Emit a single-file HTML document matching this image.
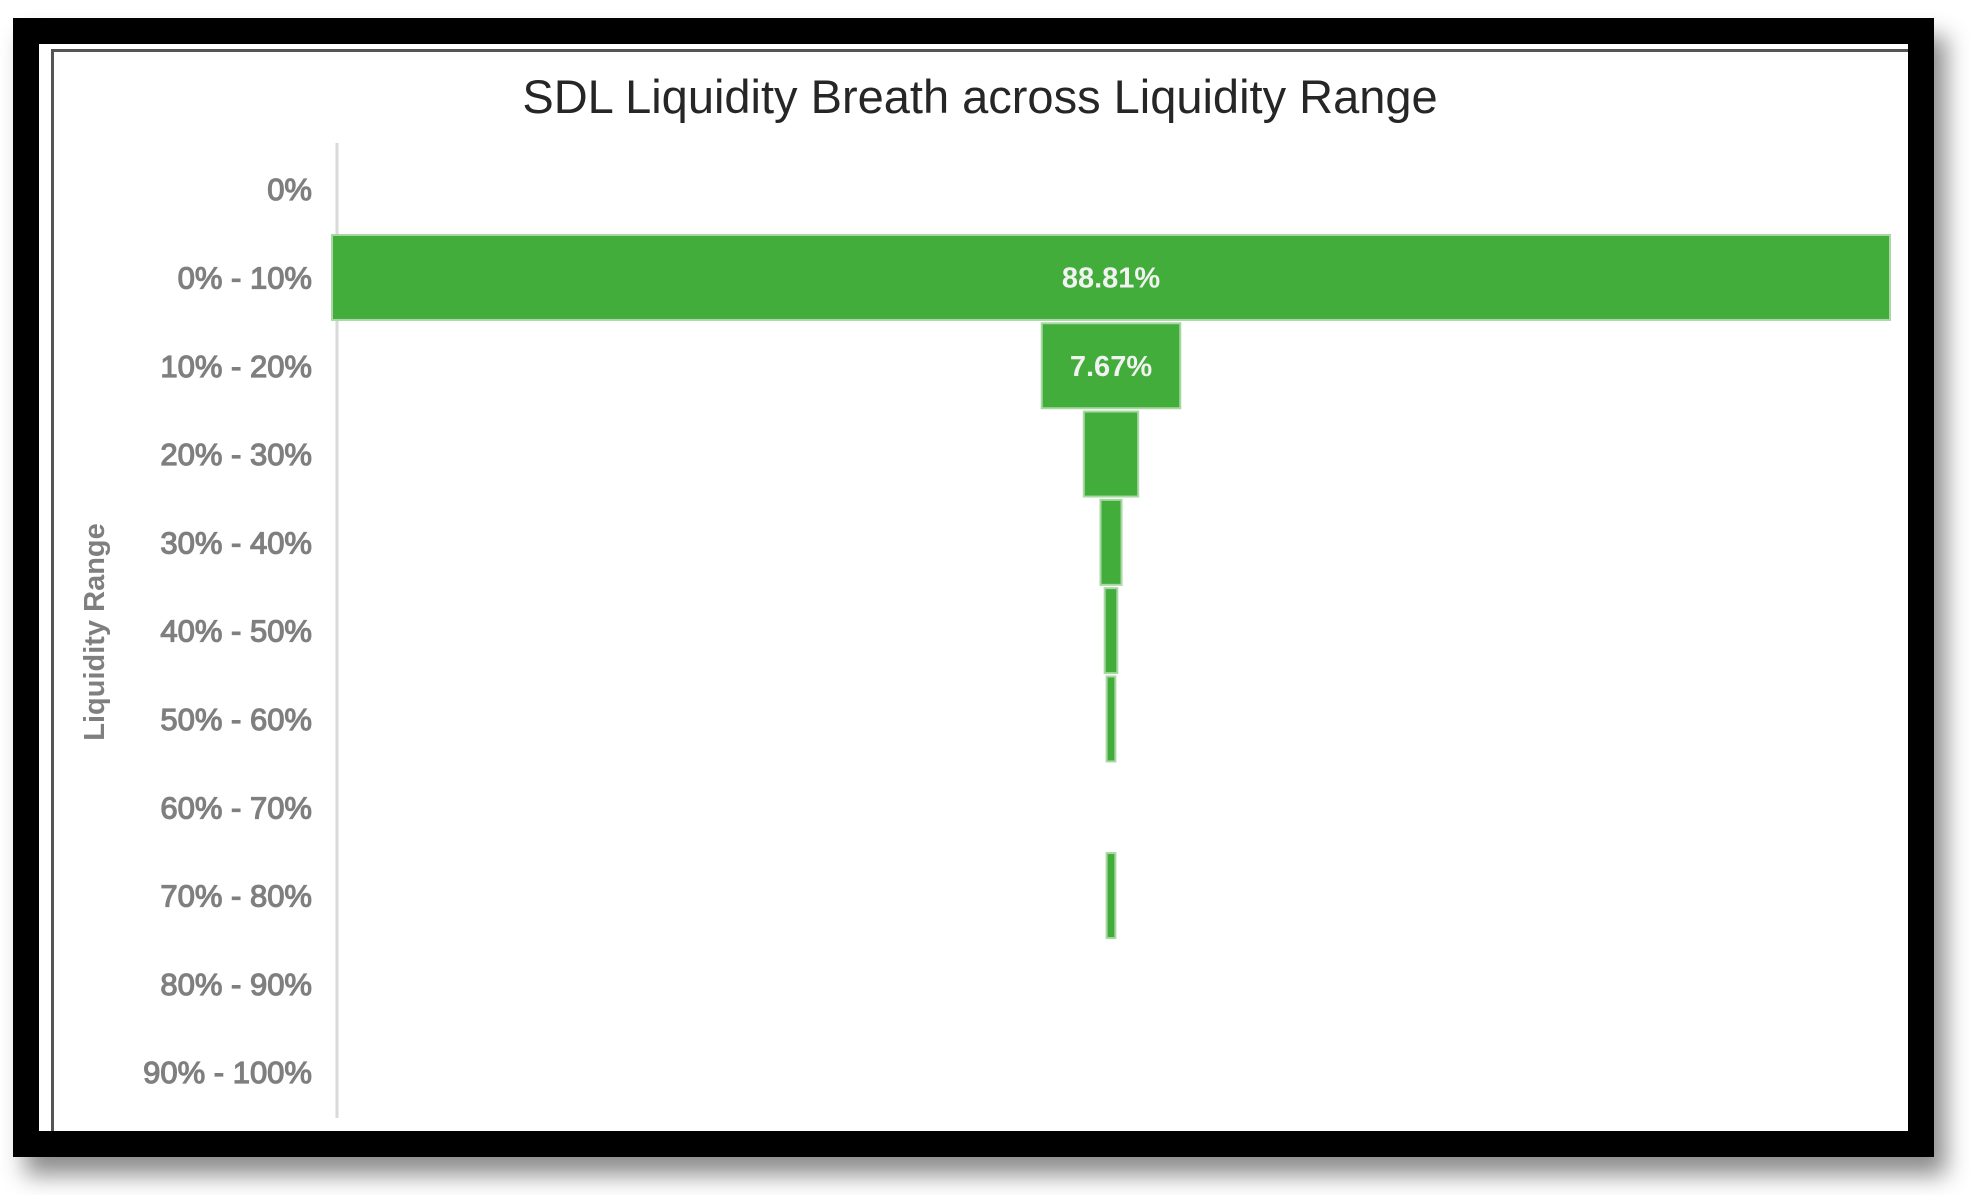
<!DOCTYPE html>
<html><head><meta charset="utf-8">
<style>
html,body{margin:0;padding:0;background:#fff;width:1970px;height:1195px;overflow:hidden;}
#frame{position:absolute;left:13px;top:18px;width:1921px;height:1139px;background:#000;box-shadow:12px 18px 22px rgba(0,0,0,0.45);}
#inner{position:absolute;left:39px;top:44px;width:1869px;height:1087px;background:#fff;}
#gline{position:absolute;left:51px;top:49px;width:1857px;height:1082px;border-left:3px solid #555;border-top:3px solid #555;box-sizing:border-box;}
svg{position:absolute;left:0;top:0;}
text{font-family:"Liberation Sans",sans-serif;}
</style></head><body>
<div id="frame"></div>
<div id="inner"></div>
<div id="gline"></div>
<svg id="chart" width="1970" height="1195">
<text x="980" y="113" text-anchor="middle" font-size="47" fill="#262626">SDL Liquidity Breath across Liquidity Range</text>
<text transform="translate(104,632) rotate(-90)" text-anchor="middle" font-size="29" font-weight="bold" fill="#7f7f7f">Liquidity Range</text>
<line x1="337" y1="143" x2="337" y2="1118" stroke="#d9d9d9" stroke-width="3"/>
<g id="bars"></g>
<g id="labels"></g>
</svg>
<script>
const categories = ["0%","0% - 10%","10% - 20%","20% - 30%","30% - 40%","40% - 50%","50% - 60%","60% - 70%","70% - 80%","80% - 90%","90% - 100%"];
const values = [0, 88.81, 7.9, 3.1, 1.2, 0.72, 0.5, 0, 0.5, 0, 0];
const shownLabels = ["", "88.81%", "7.67%", "", "", "", "", "", "", "", ""];

const ns = "http://www.w3.org/2000/svg";
const centerX = 1111, pxPerPct = 1558/88.81;
const rowTop = 145, rowH = 88.3, barH = 85;
function xw(v){ return v*pxPerPct; }
function yc(i){ return rowTop + rowH*i + rowH/2; }
const bars = document.getElementById('bars');
const labels = document.getElementById('labels');
categories.forEach((c,i)=>{
  const t = document.createElementNS(ns,'text');
  t.setAttribute('x',312); t.setAttribute('y',yc(i)+11);
  t.setAttribute('text-anchor','end'); t.setAttribute('font-size','31');
  t.setAttribute('fill','#7f7f7f'); t.setAttribute('stroke','#7f7f7f'); t.setAttribute('stroke-width','1.2');
  t.textContent = c;
  
  
  labels.appendChild(t);
  const v = values[i];
  if (v > 0) {
    const w = xw(v);
    const r = document.createElementNS(ns,'rect');
    r.setAttribute('x', centerX - w/2); r.setAttribute('y', yc(i)-barH/2);
    r.setAttribute('width', w); r.setAttribute('height', barH);
    r.setAttribute('fill','#43ad3c'); r.setAttribute('stroke','#a9d8a5'); r.setAttribute('stroke-width','2');
    
    
    bars.appendChild(r);
  }
  if (shownLabels[i]) {
    const d = document.createElementNS(ns,'text');
    d.setAttribute('x', centerX); d.setAttribute('y', yc(i)+10);
    d.setAttribute('text-anchor','middle'); d.setAttribute('font-size','29'); d.setAttribute('font-weight','bold');
    d.setAttribute('fill','#f2f2f2');
    d.textContent = shownLabels[i];
    
    
    labels.appendChild(d);
  }
});
</script>
</body></html>
